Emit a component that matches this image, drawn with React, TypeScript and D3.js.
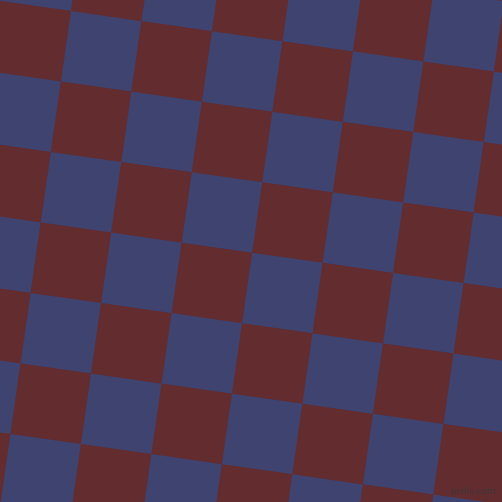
import React, { useRef, useEffect } from 'react';
import * as d3 from 'd3';

// Checkerboard: rows (j) and columns (i) in grid units
const cols = [-2, -1, 0, 1, 2, 3, 4, 5, 6, 7];
const rows = [-2, -1, 0, 1, 2, 3, 4, 5, 6, 7];
// B = blue, R = red; row -2 first
const pattern = [
  'BRBRBRBRBR',
  'RBRBRBRBRB',
  'BRBRBRBRBR',
  'RBRBRBRBRB',
  'BRBRBRBRBR',
  'RBRBRBRBRB',
  'BRBRBRBRBR',
  'RBRBRBRBRB',
  'BRBRBRBRBR',
  'RBRBRBRBRB',
];
const palette: Record<string, string> = { B: '#3f4370', R: '#632c2f' };

const App: React.FC = () => {
  const svgRef = useRef<SVGSVGElement>(null);
  const width = 502;
  const height = 502;

  useEffect(() => {
    document.body.style.margin = '0';
    if (!svgRef.current) return;
    const svg = d3.select(svgRef.current);
    svg.selectAll('*').remove();

    const size = 71.2;
    const angle = 8.15;
    const origin = { x: 71, y: 11 };

    const x = d3.scaleBand<number>().domain(cols).range([cols[0] * size, (cols[cols.length - 1] + 1) * size]);
    const y = d3.scaleBand<number>().domain(rows).range([rows[0] * size, (rows[rows.length - 1] + 1) * size]);

    svg.append('rect').attr('width', width).attr('height', height).attr('fill', palette.R);

    const g = svg.append('g')
      .attr('transform', `translate(${origin.x},${origin.y}) rotate(${angle})`);

    rows.forEach((r, ri) => {
      cols.forEach((c, ci) => {
        g.append('rect')
          .attr('x', x(c)!)
          .attr('y', y(r)!)
          .attr('width', x.bandwidth() + 0.3)
          .attr('height', y.bandwidth() + 0.3)
          .attr('fill', palette[pattern[ri][ci]]);
      });
    });

    // Watermark
    svg.append('text')
      .attr('x', 450)
      .attr('y', 494)
      .attr('font-family', 'DejaVu Sans, sans-serif')
      .attr('font-size', '9px')
      .attr('fill', '#3a3a3a')
      .attr('opacity', 0.85)
      .text('pixlis.com');
  }, []);

  return <svg ref={svgRef} width={width} height={height} style={{ display: 'block' }} />;
};

export default App;
